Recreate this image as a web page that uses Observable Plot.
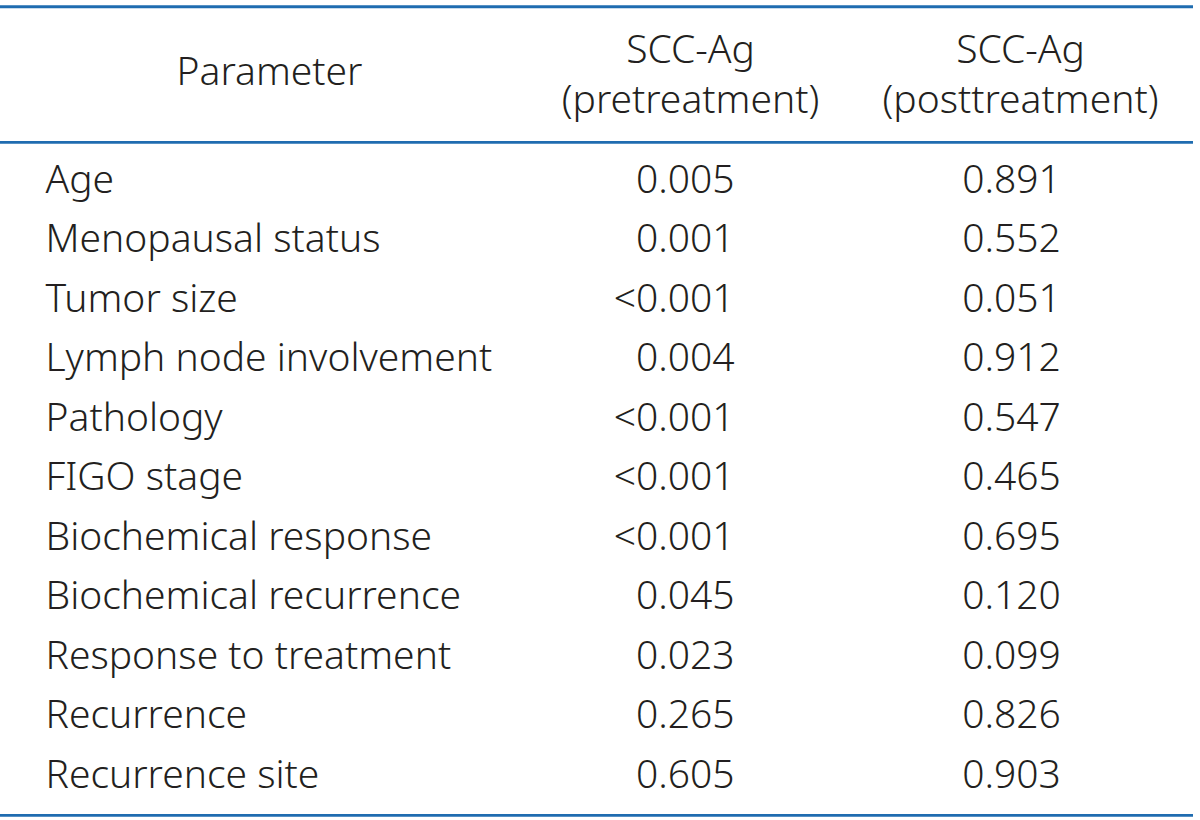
<!DOCTYPE html>
<html>
<head>
<meta charset="utf-8">
<script src="https://cdn.jsdelivr.net/npm/d3@7"></script>
<script src="https://cdn.jsdelivr.net/npm/@observablehq/plot@0.6"></script>
<style>
  html, body { margin: 0; padding: 0; background: #fff; }
  #chart svg { display: block; }
</style>
</head>
<body>
<div id="chart"></div>
<script>
// ---- data ----
const parameters = [
  "Age", "Menopausal status", "Tumor size", "Lymph node involvement",
  "Pathology", "FIGO stage", "Biochemical response", "Biochemical recurrence",
  "Response to treatment", "Recurrence", "Recurrence site"
];
const pretreatment = [
  "0.005", "0.001", "<0.001", "0.004", "<0.001", "<0.001",
  "<0.001", "0.045", "0.023", "0.265", "0.605"
];
const posttreatment = [
  "0.891", "0.552", "0.051", "0.912", "0.547", "0.465",
  "0.695", "0.120", "0.099", "0.826", "0.903"
];
const headers = ["Parameter", "SCC-Ag\n(pretreatment)", "SCC-Ag\n(posttreatment)"];

// ---- layout (row units on y: row i centered at i) ----
const W = 1200, H = 820;
const rows = parameters.map((p, i) => ({p, pre: pretreatment[i], post: posttreatment[i], i}));
const headerRow = -1.82;
const rules = [-2.92, -0.64, 10.67];
const fontFamily = "'Noto Sans', 'Open Sans', sans-serif";
const ink = "#231f20";
const blue = "#1f6cb0";
const fs = 39;

const chart = Plot.plot({
  width: W, height: H,
  margin: 0,
  x: {type: "linear", domain: [0, W], range: [0, W], axis: null},
  y: {type: "linear", domain: [-3.025, 10.756], range: [0, H], axis: null},
  style: {fontFamily, background: "#fff"},
  marks: [
    Plot.ruleY(rules, {y: d => d, x1: 0, x2: 1193, stroke: blue, strokeWidth: 2.8}),
    Plot.text([headers[0]], {x: 269, y: headerRow, text: d => d, fontSize: fs, fontWeight: 300, fill: ink, textAnchor: "middle"}),
    Plot.text([headers[1]], {x: 690, y: headerRow, text: d => d, fontSize: fs, fontWeight: 300, fill: ink, textAnchor: "middle", lineHeight: 1.28}),
    Plot.text([headers[2]], {x: 1020, y: headerRow, text: d => d, fontSize: fs, fontWeight: 300, fill: ink, textAnchor: "middle", lineHeight: 1.28}),
    Plot.text(rows, {x: 45, y: "i", text: "p", fontSize: fs, fontWeight: 300, fill: ink, textAnchor: "start"}),
    Plot.text(rows, {x: 734, y: "i", text: "pre", fontSize: fs, fontWeight: 300, fill: ink, textAnchor: "end"}),
    Plot.text(rows, {x: 1011, y: "i", text: "post", fontSize: fs, fontWeight: 300, fill: ink, textAnchor: "middle"})
  ]
});
document.getElementById("chart").appendChild(chart);
</script>
</body>
</html>
